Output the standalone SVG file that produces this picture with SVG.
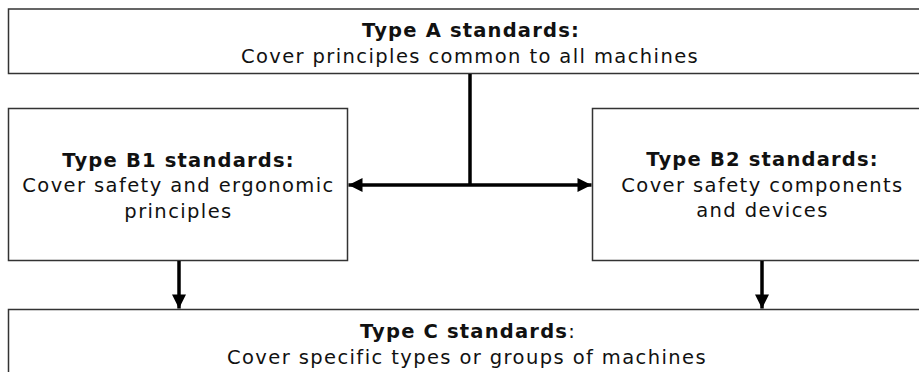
<svg xmlns="http://www.w3.org/2000/svg" width="919" height="372" viewBox="0 0 919 372">
  <style>
    .box { fill: #ffffff; stroke: #333333; stroke-width: 1.5; }
    .t { font-family: "DejaVu Sans", Verdana, sans-serif; font-size: 19.5px; letter-spacing: 1.4px; fill: #111111; text-anchor: middle; }
    .b { font-weight: bold; letter-spacing: 1.2px; }
    .wire { fill: none; stroke: #000000; stroke-width: 3.5; }
  </style>
  <defs>
    <marker id="head" viewBox="0 0 10 10" refX="10" refY="5" markerWidth="4.2" markerHeight="4" markerUnits="strokeWidth" orient="auto">
      <path d="M0,0 L10,5 L0,10 Z" fill="#000000"/>
    </marker>
  </defs>
  <rect width="919" height="372" fill="#ffffff"/>

  <g id="type-a">
    <rect class="box" x="8.5" y="9" width="925" height="64.5"/>
    <text class="t b" x="471" y="37">Type A standards:</text>
    <text class="t" x="470" y="63">Cover principles common to all machines</text>
  </g>

  <g id="type-b1">
    <rect class="box" x="8.5" y="108.5" width="339" height="152"/>
    <text class="t b" x="178.5" y="167">Type B1 standards:</text>
    <text class="t" x="178.5" y="192">Cover safety and ergonomic</text>
    <text class="t" x="178.5" y="218">principles</text>
  </g>

  <g id="type-b2">
    <rect class="box" x="592.5" y="108.5" width="340" height="152"/>
    <text class="t b" x="762.5" y="166">Type B2 standards:</text>
    <text class="t" x="762.5" y="192">Cover safety components</text>
    <text class="t" x="762.5" y="217">and devices</text>
  </g>

  <g id="type-c">
    <rect class="box" x="8.5" y="309.5" width="925" height="80"/>
    <text class="t" x="468" y="338"><tspan class="b">Type C standards</tspan>:</text>
    <text class="t" x="467" y="364">Cover specific types or groups of machines</text>
  </g>

  <g id="connectors">
    <path class="wire" d="M470,74 V185"/>
    <path class="wire" d="M470,185 H348.5" marker-end="url(#head)"/>
    <path class="wire" d="M470,185 H591.5" marker-end="url(#head)"/>
    <path class="wire" d="M179,261 V308.5" marker-end="url(#head)"/>
    <path class="wire" d="M762,261 V308.5" marker-end="url(#head)"/>
  </g>
</svg>
